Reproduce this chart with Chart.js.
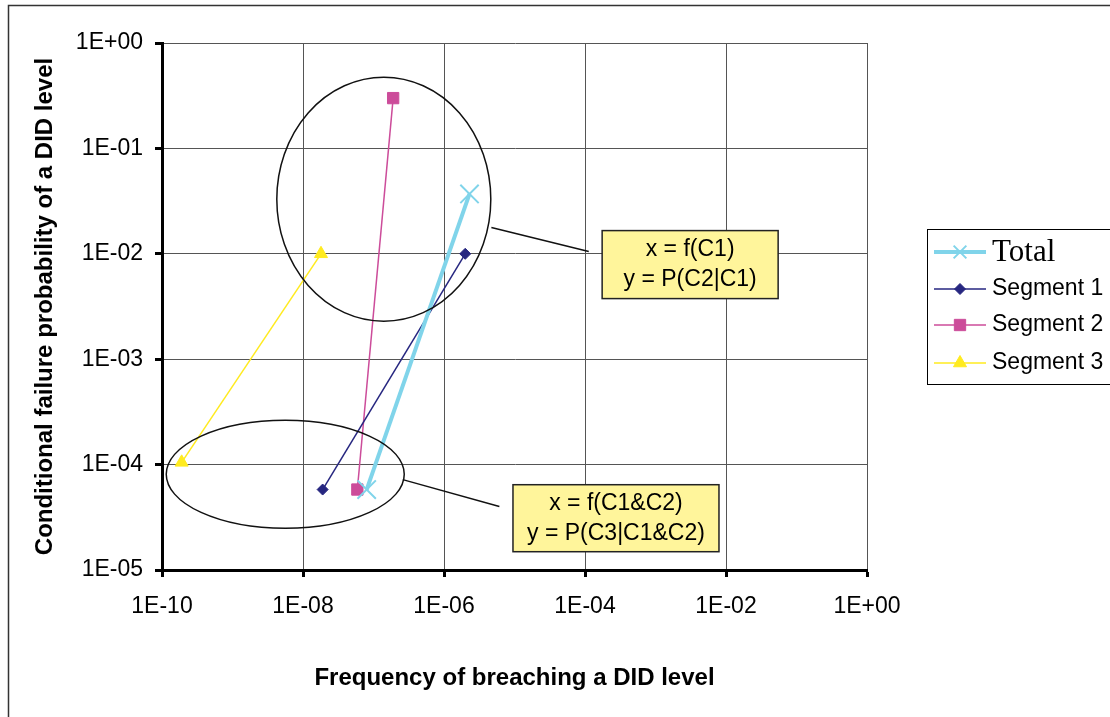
<!DOCTYPE html>
<html>
<head>
<meta charset="utf-8">
<script src="https://cdn.jsdelivr.net/npm/chart.js@4.4.1/dist/chart.umd.min.js"></script>
<style>
  html, body { margin: 0; padding: 0; background: #fff; }
  #wrap { position: relative; width: 1110px; height: 717px; }
</style>
</head>
<body>
<div id="wrap"><canvas id="chart" width="1110" height="717"></canvas></div>
<script>
// values (x = frequency, y = conditional probability)
const seriesNames = ['Total', 'Segment 1', 'Segment 2', 'Segment 3'];
const totalX = [8.0e-8, 2.3e-6];
const totalY = [5.8e-5, 3.7e-2];
const seg1X = [1.9e-8, 2.0e-6];
const seg1Y = [5.8e-5, 1.0e-2];
const seg2X = [5.9e-8, 1.9e-7];
const seg2Y = [5.8e-5, 3.0e-1];
const seg3X = [1.9e-10, 1.8e-8];
const seg3Y = [1.05e-4, 1.0e-2];

const xTicks = [1e-10, 1e-8, 1e-6, 1e-4, 1e-2, 1];
const xTickLabels = ['1E-10', '1E-08', '1E-06', '1E-04', '1E-02', '1E+00'];
const yTicks = [1e-5, 1e-4, 1e-3, 1e-2, 1e-1, 1];
const yTickLabels = ['1E-05', '1E-04', '1E-03', '1E-02', '1E-01', '1E+00'];

const calloutTop = ['x = f(C1)', 'y = P(C2|C1)'];
const calloutBottom = ['x = f(C1&C2)', 'y = P(C3|C1&C2)'];

const toPoints = (xs, ys) => xs.map((v, i) => ({ x: v, y: ys[i] }));

// ellipses, callout boxes and leader lines anchored in data space
const callouts = [
  { ellipse: { x: 1.4e-7, y: 0.033, rx: 107, ry: 122 },
    lead: [[4.7e-6, 0.0178], [1.13e-4, 0.0105]],
    box: { x: 3.1e-3, y: 7.9e-3, w: 176, h: 68 },
    text: calloutTop },
  { ellipse: { x: 5.6e-9, y: 8.1e-5, rx: 119, ry: 54 },
    lead: [[2.6e-7, 7.2e-5], [6.1e-6, 4.0e-5]],
    box: { x: 2.75e-4, y: 3.1e-5, w: 206, h: 67 },
    text: calloutBottom }
];

const calloutPlugin = {
  id: 'callouts',
  afterDatasetsDraw(chart) {
    const { ctx, scales: { x, y } } = chart;
    ctx.save();
    callouts.forEach(c => {
      const ex = x.getPixelForValue(c.ellipse.x), ey = y.getPixelForValue(c.ellipse.y);
      ctx.strokeStyle = '#111';
      ctx.lineWidth = 1.5;
      ctx.beginPath();
      ctx.ellipse(ex, ey, c.ellipse.rx, c.ellipse.ry, 0, 0, Math.PI * 2);
      ctx.stroke();

      ctx.beginPath();
      ctx.moveTo(x.getPixelForValue(c.lead[0][0]), y.getPixelForValue(c.lead[0][1]));
      ctx.lineTo(x.getPixelForValue(c.lead[1][0]), y.getPixelForValue(c.lead[1][1]));
      ctx.stroke();

      const bx = x.getPixelForValue(c.box.x), by = y.getPixelForValue(c.box.y);
      ctx.fillStyle = '#FFF59B';
      ctx.fillRect(bx - c.box.w / 2, by - c.box.h / 2, c.box.w, c.box.h);
      ctx.strokeStyle = '#222';
      ctx.strokeRect(bx - c.box.w / 2, by - c.box.h / 2, c.box.w, c.box.h);
      ctx.fillStyle = '#000';
      ctx.font = '23px "Liberation Sans", Arial, sans-serif';
      ctx.textAlign = 'center';
      ctx.textBaseline = 'middle';
      ctx.fillText(c.text[0], bx, by - 15);
      ctx.fillText(c.text[1], bx, by + 15);
    });
    ctx.restore();
  }
};

// legend on the right, plus white page and outer frame
const framePlugin = {
  id: 'frame',
  beforeDraw(chart) {
    const ctx = chart.ctx;
    ctx.save();
    ctx.fillStyle = '#fff';
    ctx.fillRect(0, 0, chart.width, chart.height);
    ctx.restore();
  },
  afterDraw(chart) {
    const ctx = chart.ctx;
    ctx.save();
    ctx.strokeStyle = '#333';
    ctx.lineWidth = 1.5;
    ctx.strokeRect(8.5, 5.5, 1300, 900);

    ctx.lineWidth = 1;
    ctx.strokeStyle = '#000';
    ctx.strokeRect(927.5, 229.5, 300, 155);
    const rows = [252, 289, 325, 363];
    chart.data.datasets.forEach((ds, i) => {
      const yy = rows[i];
      ctx.strokeStyle = ds.borderColor;
      ctx.lineWidth = ds.borderWidth;
      ctx.beginPath();
      ctx.moveTo(934, yy);
      ctx.lineTo(986, yy);
      ctx.stroke();
      ctx.fillStyle = ds.pointBackgroundColor;
      ctx.strokeStyle = ds.pointBorderColor;
      ctx.lineWidth = ds.pointBorderWidth;
      Chart.helpers.drawPoint(ctx, {
        pointStyle: ds.pointStyle,
        radius: i === 0 ? 9 : ds.pointRadius,
        rotation: 0,
        borderWidth: ds.pointBorderWidth
      }, 960, yy);
      ctx.fillStyle = '#000';
      ctx.textAlign = 'left';
      ctx.textBaseline = 'middle';
      ctx.font = i === 0 ? '31px "Liberation Serif", "Times New Roman", serif'
                         : '23px "Liberation Sans", Arial, sans-serif';
      ctx.fillText(seriesNames[i], 992, yy + (i === 0 ? 1 : 0));
    });
    ctx.restore();
  }
};

const tickFont = { family: '"Liberation Sans", Arial, sans-serif', size: 23 };
const titleFont = { family: '"Liberation Sans", Arial, sans-serif', size: 24, weight: 'bold' };

new Chart(document.getElementById('chart'), {
  type: 'scatter',
  data: {
    datasets: [
      { label: seriesNames[0], data: toPoints(totalX, totalY), showLine: true,
        borderColor: '#80D4EA', borderWidth: 4, pointStyle: 'crossRot', pointRadius: 13,
        pointBorderColor: '#80D4EA', pointBackgroundColor: '#80D4EA', pointBorderWidth: 2 },
      { label: seriesNames[1], data: toPoints(seg1X, seg1Y), showLine: true,
        borderColor: '#262680', borderWidth: 1.5, pointStyle: 'rectRot', pointRadius: 5.5,
        pointBorderColor: '#262680', pointBackgroundColor: '#262680', pointBorderWidth: 1 },
      { label: seriesNames[2], data: toPoints(seg2X, seg2Y), showLine: true,
        borderColor: '#CC4C9A', borderWidth: 1.5, pointStyle: 'rect', pointRadius: 8,
        pointBorderColor: '#CC4C9A', pointBackgroundColor: '#CC4C9A', pointBorderWidth: 1 },
      { label: seriesNames[3], data: toPoints(seg3X, seg3Y), showLine: true,
        borderColor: '#FFEB1F', borderWidth: 1.5, pointStyle: 'triangle', pointRadius: 7.5,
        pointBorderColor: '#FFEB1F', pointBackgroundColor: '#FFEB1F', pointBorderWidth: 1 }
    ]
  },
  options: {
    responsive: false,
    animation: false,
    layout: { padding: { left: 10, top: 43, right: 243, bottom: 0 } },
    plugins: { legend: { display: false }, tooltip: { enabled: false } },
    scales: {
      x: {
        type: 'logarithmic',
        min: 1e-10,
        max: 1,
        afterBuildTicks: s => { s.ticks = xTicks.map(v => ({ value: v })); },
        afterFit: s => { s.height = 147; },
        ticks: { callback: (v, i) => xTickLabels[i], font: tickFont, color: '#000', padding: 16, maxRotation: 0 },
        grid: { color: '#555', lineWidth: 1, tickColor: '#000', tickWidth: 3, tickLength: 7 },
        border: { color: '#000', width: 3 },
        title: { display: true, text: 'Frequency of breaching a DID level', font: titleFont, color: '#000',
                 padding: { top: 0, bottom: 24 } }
      },
      y: {
        type: 'logarithmic',
        min: 1e-5,
        max: 1,
        afterBuildTicks: s => { s.ticks = yTicks.map(v => ({ value: v })); },
        afterFit: s => { s.width = 152; },
        ticks: { callback: (v, i) => yTickLabels[i], font: tickFont, color: '#000', padding: 12 },
        grid: { color: '#555', lineWidth: 1, tickColor: '#000', tickWidth: 3, tickLength: 7 },
        border: { color: '#000', width: 3 },
        title: { display: true, text: 'Conditional failure probability of a DID level', font: titleFont, color: '#000',
                 padding: { top: 21, bottom: 0 } }
      }
    }
  },
  plugins: [framePlugin, calloutPlugin]
});
</script>
</body>
</html>
